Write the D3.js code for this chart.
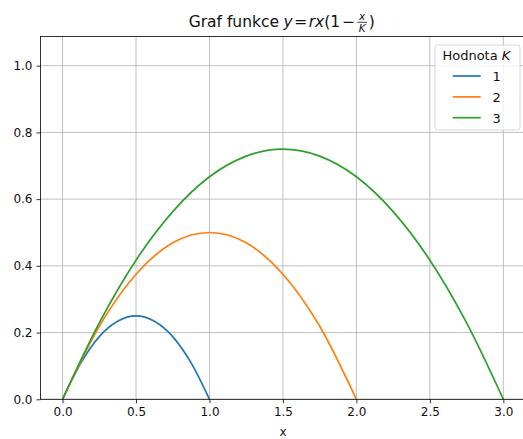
<!DOCTYPE html>
<html>
<head>
<meta charset="utf-8">
<script src="https://cdn.jsdelivr.net/npm/d3@7"></script>
<style>
  html, body { margin: 0; padding: 0; background: #fff; }
  svg { display: block; font-family: "DejaVu Sans", sans-serif; }
</style>
</head>
<body>
<svg id="chart" width="523" height="439"></svg>
<script>
// Logistic-type parabola y = r·x·(1 − x/K), sampled for three values of K
const kValues = [1, 2, 3];
const colors = ["#1f77b4", "#ff7f0e", "#2ca02c"];

const xK1 = [0, 0.125, 0.25, 0.375, 0.5, 0.625, 0.75, 0.875, 1];
const yK1 = [0, 0.109, 0.188, 0.234, 0.25, 0.234, 0.188, 0.109, 0];

const xK2 = [0, 0.25, 0.5, 0.75, 1, 1.25, 1.5, 1.75, 2];
const yK2 = [0, 0.219, 0.375, 0.469, 0.5, 0.469, 0.375, 0.219, 0];

const xK3 = [0, 0.25, 0.5, 0.75, 1, 1.25, 1.5, 1.75, 2, 2.25, 2.5, 2.75, 3];
const yK3 = [0, 0.229, 0.417, 0.5625, 0.667, 0.729, 0.75, 0.729, 0.667, 0.5625, 0.417, 0.229, 0];

const xTicks = [0, 0.5, 1, 1.5, 2, 2.5, 3];
const yTicks = [0, 0.2, 0.4, 0.6, 0.8, 1.0];

const series = [
  { k: kValues[0], xs: xK1, ys: yK1, color: colors[0] },
  { k: kValues[1], xs: xK2, ys: yK2, color: colors[1] },
  { k: kValues[2], xs: xK3, ys: yK3, color: colors[2] }
];

const svg = d3.select("#chart");
const plot = { left: 40.5, right: 525.4, top: 36.5, bottom: 399.3 };

const x = d3.scaleLinear().domain([-0.15, 3.15]).range([plot.left, plot.right]);
const y = d3.scaleLinear().domain([0, 1.0875]).range([plot.bottom, plot.top]);

const tickFont = 12;
const legendFont = 13;
const textColor = "#111";
const gridColor = "#b0b0b0";

// grid
const grid = svg.append("g");
grid.selectAll("line.gx").data(xTicks).enter().append("line")
  .attr("x1", d => x(d)).attr("x2", d => x(d))
  .attr("y1", plot.top).attr("y2", plot.bottom)
  .attr("stroke", gridColor).attr("stroke-width", 0.8);
grid.selectAll("line.gy").data(yTicks).enter().append("line")
  .attr("x1", plot.left).attr("x2", plot.right)
  .attr("y1", d => y(d)).attr("y2", d => y(d))
  .attr("stroke", gridColor).attr("stroke-width", 0.8);

// curves
const line = d3.line()
  .x(d => x(d[0])).y(d => y(d[1]))
  .curve(d3.curveCardinal.tension(0));

svg.append("clipPath").attr("id", "clip").append("rect")
  .attr("x", plot.left).attr("y", plot.top)
  .attr("width", plot.right - plot.left).attr("height", plot.bottom - plot.top);

svg.append("g").attr("clip-path", "url(#clip)")
  .selectAll("path").data(series).enter().append("path")
  .attr("d", s => line(s.xs.map((v, i) => [v, s.ys[i]])))
  .attr("fill", "none")
  .attr("stroke", s => s.color)
  .attr("stroke-width", 1.7)
  .attr("stroke-linejoin", "round")
  .attr("stroke-linecap", "butt");

// axes
const xAxis = d3.axisBottom(x).tickValues(xTicks).tickFormat(d3.format(".1f"))
  .tickSize(4).tickPadding(4);
const yAxis = d3.axisLeft(y).tickValues(yTicks).tickFormat(d3.format(".1f"))
  .tickSize(4).tickPadding(4);

const gx = svg.append("g").attr("transform", `translate(0,${plot.bottom})`).call(xAxis);
const gy = svg.append("g").attr("transform", `translate(${plot.left},0)`).call(yAxis);

[gx, gy].forEach(g => {
  g.select(".domain").remove();
  g.selectAll(".tick line").attr("stroke", "#000").attr("stroke-width", 0.8);
  g.selectAll(".tick text").attr("fill", textColor)
    .style("font-family", "DejaVu Sans").style("font-size", tickFont + "px");
});

// spines
svg.append("rect")
  .attr("x", plot.left).attr("y", plot.top)
  .attr("width", plot.right - plot.left).attr("height", plot.bottom - plot.top)
  .attr("fill", "none").attr("stroke", "#000").attr("stroke-width", 0.8);

// x label
svg.append("text")
  .attr("x", x(1.5)).attr("y", 436)
  .attr("text-anchor", "middle")
  .style("font-size", tickFont + "px").attr("fill", textColor)
  .text("x");

// title: "Graf funkce y = rx(1 − x/K)", laid out piece by piece with a stacked fraction
const titleG = svg.append("g").attr("fill", textColor);
const titleBase = 27;
const titleSize = 15.5;
const titlePieces = [
  { t: "Graf funkce", italic: false, gap: 4.5 },
  { t: "y", italic: true, gap: 1.5 },
  { t: "=", italic: false, gap: 1.5 },
  { t: "rx", italic: true, gap: 0 },
  { t: "(1", italic: false, gap: 2 },
  { t: "−", italic: false, gap: 1.5 },
  { t: "FRAC", italic: false, gap: 1 },
  { t: ")", italic: false, gap: 0 }
];
const fracW = 11;
let cursor = 0;
const placed = [];
titlePieces.forEach(p => {
  if (p.t === "FRAC") {
    placed.push({ frac: true, x: cursor });
    cursor += fracW + p.gap;
    return;
  }
  const el = titleG.append("text")
    .attr("y", titleBase)
    .style("font-size", titleSize + "px")
    .style("font-style", p.italic ? "italic" : "normal")
    .text(p.t);
  placed.push({ el, x: cursor });
  cursor += el.node().getComputedTextLength() + p.gap;
});
const titleStart = 281.7 - cursor / 2;
placed.forEach(p => {
  if (p.frac) {
    const cx = titleStart + p.x + fracW / 2;
    titleG.append("text").attr("x", cx).attr("y", 20)
      .attr("text-anchor", "middle").style("font-size", "10.5px")
      .style("font-style", "italic").text("x");
    titleG.append("line").attr("x1", cx - 5).attr("x2", cx + 5)
      .attr("y1", 22.3).attr("y2", 22.3).attr("stroke", textColor).attr("stroke-width", 0.8);
    titleG.append("text").attr("x", cx).attr("y", 31.5)
      .attr("text-anchor", "middle").style("font-size", "10.5px")
      .style("font-style", "italic").text("K");
  } else {
    p.el.attr("x", titleStart + p.x);
  }
});

// legend
const lg = svg.append("g");
lg.append("rect")
  .attr("x", 435).attr("y", 45).attr("width", 85).attr("height", 85)
  .attr("rx", 2.5).attr("fill", "#fff").attr("fill-opacity", 0.8)
  .attr("stroke", "#ccc").attr("stroke-width", 0.8);
const lt = lg.append("text").attr("x", 476.4).attr("y", 60)
  .attr("text-anchor", "middle").style("font-size", legendFont + "px").attr("fill", textColor);
lt.append("tspan").text("Hodnota ");
lt.append("tspan").style("font-style", "italic").text("K");

const rows = lg.selectAll("g.row").data(series).enter().append("g")
  .attr("transform", (d, i) => `translate(0,${76 + i * 20.85})`);
rows.append("line").attr("x1", 452.7).attr("x2", 480.7).attr("y1", 0).attr("y2", 0)
  .attr("stroke", d => d.color).attr("stroke-width", 1.7);
rows.append("text").attr("x", 492.5).attr("y", 5)
  .style("font-size", legendFont + "px").attr("fill", textColor)
  .text(d => d.k);
</script>
</body>
</html>
